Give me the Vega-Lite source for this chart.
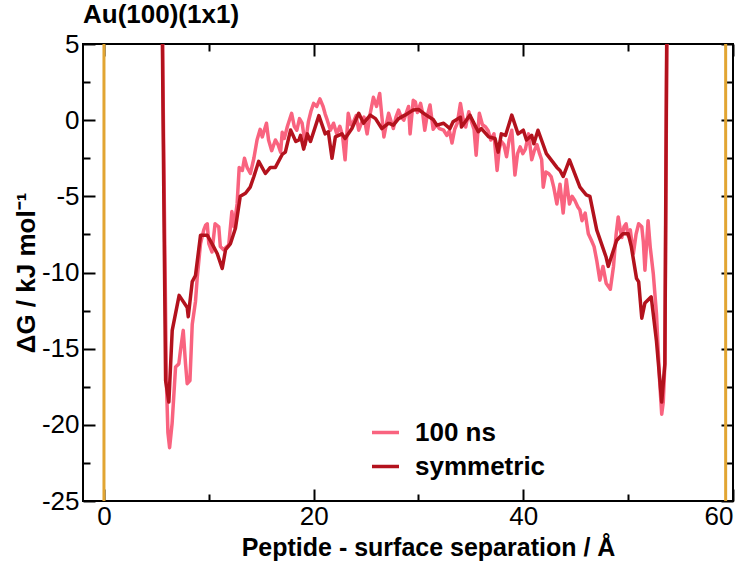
{
  "$schema": "https://vega.github.io/schema/vega-lite/v6.json",
  "autosize": "none",
  "width": 650,
  "height": 457,
  "padding": {"left": 83, "top": 44, "right": 17, "bottom": 66},
  "background": "white",
  "config": {
    "font": "Liberation Sans",
    "view": {"stroke": "black", "strokeWidth": 2},
    "axis": {
      "domain": false,
      "grid": false,
      "zindex": 1,
      "tickColor": "black",
      "tickWidth": 2,
      "labelFont": "Liberation Sans",
      "labelFontSize": 26,
      "labelColor": "black",
      "titleFont": "Liberation Sans",
      "titleFontSize": 26,
      "titleFontWeight": "bold",
      "titleColor": "black"
    }
  },
  "title": {
    "text": "Au(100)(1x1)",
    "anchor": "start",
    "frame": "group",
    "font": "Liberation Sans",
    "fontSize": 26,
    "fontWeight": "bold",
    "color": "black",
    "baseline": "alphabetic",
    "offset": -18
  },
  "datasets": {
    "walls": [{"x": 0}, {"x": 59.3}],
    "curves": [
      {"series": "100 ns", "x": 5.5, "y": 12}, {"series": "100 ns", "x": 5.62, "y": 3}, {"series": "100 ns", "x": 5.8, "y": -8}, {"series": "100 ns", "x": 5.95, "y": -17}, {"series": "100 ns", "x": 6.1, "y": -20.5}, {"series": "100 ns", "x": 6.26, "y": -21.5}, {"series": "100 ns", "x": 6.5, "y": -19.9}, {"series": "100 ns", "x": 6.83, "y": -16.2}, {"series": "100 ns", "x": 7.14, "y": -16.0}, {"series": "100 ns", "x": 7.3, "y": -15.1}, {"series": "100 ns", "x": 7.56, "y": -13.8}, {"series": "100 ns", "x": 7.78, "y": -16.0}, {"series": "100 ns", "x": 7.94, "y": -17.3}, {"series": "100 ns", "x": 8.2, "y": -17.1}, {"series": "100 ns", "x": 8.42, "y": -13.4}, {"series": "100 ns", "x": 8.73, "y": -11.9}, {"series": "100 ns", "x": 8.9, "y": -10.3}, {"series": "100 ns", "x": 9.21, "y": -8.1}, {"series": "100 ns", "x": 9.52, "y": -7.2}, {"series": "100 ns", "x": 9.69, "y": -6.9}, {"series": "100 ns", "x": 9.85, "y": -6.8}, {"series": "100 ns", "x": 10.0, "y": -8.1}, {"series": "100 ns", "x": 10.3, "y": -8.65}, {"series": "100 ns", "x": 10.6, "y": -6.8}, {"series": "100 ns", "x": 10.95, "y": -7.0}, {"series": "100 ns", "x": 11.1, "y": -8.3}, {"series": "100 ns", "x": 11.4, "y": -8.5}, {"series": "100 ns", "x": 11.9, "y": -8.2}, {"series": "100 ns", "x": 12.2, "y": -6.0}, {"series": "100 ns", "x": 12.4, "y": -7.0}, {"series": "100 ns", "x": 12.7, "y": -5.5}, {"series": "100 ns", "x": 12.9, "y": -3.1}, {"series": "100 ns", "x": 13.2, "y": -3.3}, {"series": "100 ns", "x": 13.4, "y": -2.5}, {"series": "100 ns", "x": 13.65, "y": -3.1}, {"series": "100 ns", "x": 13.97, "y": -3.5}, {"series": "100 ns", "x": 14.3, "y": -2.5}, {"series": "100 ns", "x": 14.6, "y": -1.3}, {"series": "100 ns", "x": 14.9, "y": -0.6}, {"series": "100 ns", "x": 15.1, "y": -1.1}, {"series": "100 ns", "x": 15.5, "y": -0.2}, {"series": "100 ns", "x": 15.7, "y": -1.3}, {"series": "100 ns", "x": 16.0, "y": -2.0}, {"series": "100 ns", "x": 16.35, "y": -1.3}, {"series": "100 ns", "x": 16.6, "y": -1.6}, {"series": "100 ns", "x": 16.85, "y": -2.1}, {"series": "100 ns", "x": 17.0, "y": -0.8}, {"series": "100 ns", "x": 17.2, "y": -1.2}, {"series": "100 ns", "x": 17.5, "y": -0.4}, {"series": "100 ns", "x": 17.9, "y": 0.45}, {"series": "100 ns", "x": 18.15, "y": -0.4}, {"series": "100 ns", "x": 18.4, "y": -0.66}, {"series": "100 ns", "x": 18.65, "y": 0.1}, {"series": "100 ns", "x": 18.9, "y": -0.2}, {"series": "100 ns", "x": 19.2, "y": -1.6}, {"series": "100 ns", "x": 19.5, "y": -0.1}, {"series": "100 ns", "x": 19.75, "y": 0.6}, {"series": "100 ns", "x": 20.0, "y": 1.1}, {"series": "100 ns", "x": 20.3, "y": 0.9}, {"series": "100 ns", "x": 20.6, "y": 1.4}, {"series": "100 ns", "x": 20.9, "y": 0.9}, {"series": "100 ns", "x": 21.1, "y": 0.4}, {"series": "100 ns", "x": 21.3, "y": 0.0}, {"series": "100 ns", "x": 21.6, "y": -0.66}, {"series": "100 ns", "x": 21.9, "y": -0.2}, {"series": "100 ns", "x": 22.2, "y": -0.9}, {"series": "100 ns", "x": 22.5, "y": -0.4}, {"series": "100 ns", "x": 22.75, "y": -1.0}, {"series": "100 ns", "x": 23.0, "y": -2.6}, {"series": "100 ns", "x": 23.3, "y": 0.45}, {"series": "100 ns", "x": 23.55, "y": -0.3}, {"series": "100 ns", "x": 23.8, "y": -0.1}, {"series": "100 ns", "x": 24.05, "y": 0.3}, {"series": "100 ns", "x": 24.3, "y": -0.66}, {"series": "100 ns", "x": 24.55, "y": -0.2}, {"series": "100 ns", "x": 24.8, "y": 0.2}, {"series": "100 ns", "x": 25.1, "y": -0.9}, {"series": "100 ns", "x": 25.4, "y": 0.45}, {"series": "100 ns", "x": 25.7, "y": 1.5}, {"series": "100 ns", "x": 26.0, "y": 0.9}, {"series": "100 ns", "x": 26.3, "y": 1.75}, {"series": "100 ns", "x": 26.5, "y": 0.3}, {"series": "100 ns", "x": 26.7, "y": -1.1}, {"series": "100 ns", "x": 26.95, "y": -0.2}, {"series": "100 ns", "x": 27.15, "y": 0.45}, {"series": "100 ns", "x": 27.4, "y": -0.1}, {"series": "100 ns", "x": 27.6, "y": -0.55}, {"series": "100 ns", "x": 27.85, "y": 0.2}, {"series": "100 ns", "x": 28.1, "y": 0.66}, {"series": "100 ns", "x": 28.35, "y": 0.2}, {"series": "100 ns", "x": 28.6, "y": 0.0}, {"series": "100 ns", "x": 28.85, "y": 0.5}, {"series": "100 ns", "x": 29.05, "y": 0.9}, {"series": "100 ns", "x": 29.2, "y": -0.9}, {"series": "100 ns", "x": 29.5, "y": 1.3}, {"series": "100 ns", "x": 29.7, "y": 1.2}, {"series": "100 ns", "x": 29.9, "y": 0.5}, {"series": "100 ns", "x": 30.2, "y": 1.1}, {"series": "100 ns", "x": 30.4, "y": 0.45}, {"series": "100 ns", "x": 30.6, "y": -0.66}, {"series": "100 ns", "x": 30.8, "y": 0.2}, {"series": "100 ns", "x": 31.1, "y": 1.0}, {"series": "100 ns", "x": 31.4, "y": -0.6}, {"series": "100 ns", "x": 31.7, "y": -0.3}, {"series": "100 ns", "x": 32.0, "y": -0.55}, {"series": "100 ns", "x": 32.4, "y": -0.66}, {"series": "100 ns", "x": 32.7, "y": -1.0}, {"series": "100 ns", "x": 32.95, "y": -0.7}, {"series": "100 ns", "x": 33.2, "y": -1.5}, {"series": "100 ns", "x": 33.45, "y": -0.6}, {"series": "100 ns", "x": 33.7, "y": -0.2}, {"series": "100 ns", "x": 34.0, "y": 1.1}, {"series": "100 ns", "x": 34.25, "y": 0.1}, {"series": "100 ns", "x": 34.5, "y": -0.45}, {"series": "100 ns", "x": 34.8, "y": 0.55}, {"series": "100 ns", "x": 35.1, "y": -0.2}, {"series": "100 ns", "x": 35.3, "y": -0.6}, {"series": "100 ns", "x": 35.5, "y": -2.3}, {"series": "100 ns", "x": 35.8, "y": 0.45}, {"series": "100 ns", "x": 36.1, "y": -0.3}, {"series": "100 ns", "x": 36.4, "y": -0.45}, {"series": "100 ns", "x": 36.65, "y": -0.7}, {"series": "100 ns", "x": 36.9, "y": -1.3}, {"series": "100 ns", "x": 37.2, "y": -0.9}, {"series": "100 ns", "x": 37.5, "y": -3.3}, {"series": "100 ns", "x": 37.7, "y": -1.9}, {"series": "100 ns", "x": 37.9, "y": -1.4}, {"series": "100 ns", "x": 38.15, "y": -1.6}, {"series": "100 ns", "x": 38.4, "y": -2.4}, {"series": "100 ns", "x": 38.65, "y": -1.3}, {"series": "100 ns", "x": 38.9, "y": -0.66}, {"series": "100 ns", "x": 39.2, "y": -3.6}, {"series": "100 ns", "x": 39.45, "y": -2.2}, {"series": "100 ns", "x": 39.7, "y": -1.75}, {"series": "100 ns", "x": 39.95, "y": -2.2}, {"series": "100 ns", "x": 40.2, "y": -1.9}, {"series": "100 ns", "x": 40.5, "y": -0.9}, {"series": "100 ns", "x": 40.8, "y": -2.6}, {"series": "100 ns", "x": 41.05, "y": -2.0}, {"series": "100 ns", "x": 41.3, "y": -1.6}, {"series": "100 ns", "x": 41.55, "y": -2.2}, {"series": "100 ns", "x": 41.75, "y": -2.6}, {"series": "100 ns", "x": 41.9, "y": -4.4}, {"series": "100 ns", "x": 42.15, "y": -3.4}, {"series": "100 ns", "x": 42.4, "y": -3.5}, {"series": "100 ns", "x": 42.65, "y": -3.7}, {"series": "100 ns", "x": 42.9, "y": -4.4}, {"series": "100 ns", "x": 43.2, "y": -5.5}, {"series": "100 ns", "x": 43.5, "y": -4.2}, {"series": "100 ns", "x": 43.8, "y": -6.1}, {"series": "100 ns", "x": 44.1, "y": -3.9}, {"series": "100 ns", "x": 44.4, "y": -5.5}, {"series": "100 ns", "x": 44.65, "y": -5.0}, {"series": "100 ns", "x": 44.9, "y": -5.25}, {"series": "100 ns", "x": 45.2, "y": -5.7}, {"series": "100 ns", "x": 45.4, "y": -5.9}, {"series": "100 ns", "x": 45.6, "y": -6.6}, {"series": "100 ns", "x": 45.9, "y": -6.1}, {"series": "100 ns", "x": 46.2, "y": -7.45}, {"series": "100 ns", "x": 46.5, "y": -7.9}, {"series": "100 ns", "x": 46.75, "y": -8.3}, {"series": "100 ns", "x": 47.0, "y": -9.2}, {"series": "100 ns", "x": 47.3, "y": -10.5}, {"series": "100 ns", "x": 47.6, "y": -9.6}, {"series": "100 ns", "x": 47.9, "y": -10.7}, {"series": "100 ns", "x": 48.3, "y": -11.1}, {"series": "100 ns", "x": 48.6, "y": -9.6}, {"series": "100 ns", "x": 48.85, "y": -7.5}, {"series": "100 ns", "x": 49.05, "y": -6.35}, {"series": "100 ns", "x": 49.25, "y": -7.2}, {"series": "100 ns", "x": 49.4, "y": -7.7}, {"series": "100 ns", "x": 49.6, "y": -7.0}, {"series": "100 ns", "x": 49.8, "y": -6.8}, {"series": "100 ns", "x": 50.0, "y": -7.6}, {"series": "100 ns", "x": 50.2, "y": -7.2}, {"series": "100 ns", "x": 50.5, "y": -8.75}, {"series": "100 ns", "x": 50.75, "y": -7.5}, {"series": "100 ns", "x": 51.0, "y": -6.8}, {"series": "100 ns", "x": 51.3, "y": -7.0}, {"series": "100 ns", "x": 51.45, "y": -8.0}, {"series": "100 ns", "x": 51.6, "y": -9.85}, {"series": "100 ns", "x": 51.9, "y": -6.6}, {"series": "100 ns", "x": 52.1, "y": -8.3}, {"series": "100 ns", "x": 52.4, "y": -10.1}, {"series": "100 ns", "x": 52.7, "y": -12.7}, {"series": "100 ns", "x": 53.0, "y": -17.1}, {"series": "100 ns", "x": 53.2, "y": -19.3}, {"series": "100 ns", "x": 53.35, "y": -18.5}, {"series": "100 ns", "x": 53.5, "y": -16.0}, {"series": "100 ns", "x": 53.6, "y": -5}, {"series": "100 ns", "x": 53.75, "y": 12},
      {"series": "symmetric", "x": 5.5, "y": 12}, {"series": "symmetric", "x": 5.6, "y": 3}, {"series": "symmetric", "x": 5.75, "y": -8}, {"series": "symmetric", "x": 5.88, "y": -17.1}, {"series": "symmetric", "x": 6.19, "y": -18.5}, {"series": "symmetric", "x": 6.51, "y": -13.8}, {"series": "symmetric", "x": 7.17, "y": -11.5}, {"series": "symmetric", "x": 7.94, "y": -12.3}, {"series": "symmetric", "x": 8.04, "y": -12.9}, {"series": "symmetric", "x": 8.42, "y": -10.6}, {"series": "symmetric", "x": 8.73, "y": -10.2}, {"series": "symmetric", "x": 9.21, "y": -7.55}, {"series": "symmetric", "x": 9.85, "y": -7.55}, {"series": "symmetric", "x": 10.3, "y": -8.1}, {"series": "symmetric", "x": 10.8, "y": -8.75}, {"series": "symmetric", "x": 11.28, "y": -9.74}, {"series": "symmetric", "x": 11.6, "y": -8.5}, {"series": "symmetric", "x": 12.07, "y": -8.1}, {"series": "symmetric", "x": 12.54, "y": -7.1}, {"series": "symmetric", "x": 13.0, "y": -5.0}, {"series": "symmetric", "x": 13.5, "y": -4.8}, {"series": "symmetric", "x": 13.95, "y": -4.4}, {"series": "symmetric", "x": 14.3, "y": -3.7}, {"series": "symmetric", "x": 14.76, "y": -2.7}, {"series": "symmetric", "x": 15.4, "y": -3.5}, {"series": "symmetric", "x": 15.87, "y": -3.1}, {"series": "symmetric", "x": 16.35, "y": -3.1}, {"series": "symmetric", "x": 17.0, "y": -2.25}, {"series": "symmetric", "x": 17.3, "y": -2.1}, {"series": "symmetric", "x": 17.8, "y": -0.65}, {"series": "symmetric", "x": 18.3, "y": -1.4}, {"series": "symmetric", "x": 18.6, "y": -1.3}, {"series": "symmetric", "x": 18.75, "y": -1.0}, {"series": "symmetric", "x": 19.05, "y": -1.9}, {"series": "symmetric", "x": 19.4, "y": -0.9}, {"series": "symmetric", "x": 19.7, "y": -1.4}, {"series": "symmetric", "x": 20.5, "y": 0.3}, {"series": "symmetric", "x": 21.1, "y": -0.9}, {"series": "symmetric", "x": 21.4, "y": -0.76}, {"series": "symmetric", "x": 21.75, "y": -2.5}, {"series": "symmetric", "x": 22.07, "y": -1.1}, {"series": "symmetric", "x": 22.7, "y": -0.9}, {"series": "symmetric", "x": 23.0, "y": -1.2}, {"series": "symmetric", "x": 23.65, "y": -0.55}, {"series": "symmetric", "x": 24.3, "y": 0.45}, {"series": "symmetric", "x": 24.76, "y": -0.2}, {"series": "symmetric", "x": 25.4, "y": 0.33}, {"series": "symmetric", "x": 25.9, "y": 0.1}, {"series": "symmetric", "x": 26.5, "y": -0.55}, {"series": "symmetric", "x": 27.15, "y": -0.2}, {"series": "symmetric", "x": 27.6, "y": -0.33}, {"series": "symmetric", "x": 28.1, "y": 0.1}, {"series": "symmetric", "x": 28.7, "y": 0.33}, {"series": "symmetric", "x": 29.5, "y": 0.66}, {"series": "symmetric", "x": 30.0, "y": 0.7}, {"series": "symmetric", "x": 30.8, "y": 0.3}, {"series": "symmetric", "x": 31.4, "y": 0.05}, {"series": "symmetric", "x": 31.75, "y": -0.33}, {"series": "symmetric", "x": 32.4, "y": -0.2}, {"series": "symmetric", "x": 33.0, "y": -0.55}, {"series": "symmetric", "x": 33.3, "y": -0.1}, {"series": "symmetric", "x": 34.0, "y": 0.2}, {"series": "symmetric", "x": 34.1, "y": -0.45}, {"series": "symmetric", "x": 34.9, "y": 0.33}, {"series": "symmetric", "x": 35.7, "y": -0.76}, {"series": "symmetric", "x": 36.0, "y": -0.55}, {"series": "symmetric", "x": 36.7, "y": -1.1}, {"series": "symmetric", "x": 37.3, "y": -1.2}, {"series": "symmetric", "x": 37.6, "y": -2.1}, {"series": "symmetric", "x": 37.9, "y": -0.9}, {"series": "symmetric", "x": 38.3, "y": -1.0}, {"series": "symmetric", "x": 38.9, "y": 0.33}, {"series": "symmetric", "x": 39.5, "y": -0.9}, {"series": "symmetric", "x": 40.0, "y": -0.66}, {"series": "symmetric", "x": 40.3, "y": -1.3}, {"series": "symmetric", "x": 40.8, "y": -1.0}, {"series": "symmetric", "x": 41.0, "y": -1.55}, {"series": "symmetric", "x": 41.4, "y": -0.66}, {"series": "symmetric", "x": 42.2, "y": -2.2}, {"series": "symmetric", "x": 43.2, "y": -3.1}, {"series": "symmetric", "x": 43.5, "y": -3.3}, {"series": "symmetric", "x": 43.8, "y": -3.7}, {"series": "symmetric", "x": 44.4, "y": -2.6}, {"series": "symmetric", "x": 45.4, "y": -4.4}, {"series": "symmetric", "x": 46.0, "y": -4.9}, {"series": "symmetric", "x": 46.35, "y": -5.0}, {"series": "symmetric", "x": 47.0, "y": -7.2}, {"series": "symmetric", "x": 47.9, "y": -9.0}, {"series": "symmetric", "x": 48.1, "y": -9.6}, {"series": "symmetric", "x": 48.9, "y": -7.9}, {"series": "symmetric", "x": 49.5, "y": -7.45}, {"series": "symmetric", "x": 50.0, "y": -7.45}, {"series": "symmetric", "x": 50.3, "y": -8.3}, {"series": "symmetric", "x": 50.8, "y": -10.4}, {"series": "symmetric", "x": 51.0, "y": -10.6}, {"series": "symmetric", "x": 51.3, "y": -13.0}, {"series": "symmetric", "x": 51.6, "y": -12.0}, {"series": "symmetric", "x": 52.2, "y": -11.6}, {"series": "symmetric", "x": 52.7, "y": -14.5}, {"series": "symmetric", "x": 53.2, "y": -18.5}, {"series": "symmetric", "x": 53.5, "y": -16.0}, {"series": "symmetric", "x": 53.65, "y": 2.6}, {"series": "symmetric", "x": 53.75, "y": 12}
    ]
  },
  "resolve": {"axis": {"x": "independent", "y": "independent"}},
  "layer": [
    {
      "data": {"name": "walls"},
      "mark": {"type": "rule", "color": "#e2a532", "strokeWidth": 3},
      "encoding": {
        "x": {
          "field": "x", "type": "quantitative",
          "scale": {"domain": [-2, 60], "nice": false, "zero": false},
          "axis": {
            "orient": "bottom",
            "values": [0, 20, 40, 60],
            "labelExpr": "'' + datum.value",
            "tickSize": -12,
            "labelPadding": 14,
            "title": "Peptide - surface separation / Å",
            "titleFontSize": 25,
            "titlePadding": 6,
            "titleX": 345
          }
        }
      }
    },
    {
      "data": {"name": "curves"},
      "mark": {"type": "line", "clip": true, "strokeWidth": 3.5, "strokeJoin": "round"},
      "encoding": {
        "x": {
          "field": "x", "type": "quantitative",
          "scale": {"domain": [-2, 60], "nice": false, "zero": false},
          "axis": {"orient": "top", "values": [0, 20, 40, 60], "labels": false, "tickSize": -12, "title": null}
        },
        "y": {
          "field": "y", "type": "quantitative",
          "scale": {"domain": [-25, 5], "nice": false, "zero": false},
          "axis": {
            "orient": "left",
            "values": [-25, -20, -15, -10, -5, 0, 5],
            "labelExpr": "'' + datum.value",
            "tickSize": -12,
            "labelPadding": 16,
            "title": "ΔG / kJ mol⁻¹",
            "titlePadding": 2
          }
        },
        "color": {
          "field": "series", "type": "nominal",
          "scale": {"domain": ["100 ns", "symmetric"], "range": ["#f9637f", "#b3121d"]},
          "legend": {
            "orient": "none",
            "legendX": 287,
            "legendY": 373,
            "title": null,
            "padding": 0,
            "symbolType": "stroke",
            "symbolSize": 729,
            "symbolStrokeWidth": 3.5,
            "labelFont": "Liberation Sans",
            "labelFontSize": 26,
            "labelFontWeight": "bold",
            "labelColor": "black",
            "labelOffset": 14,
            "rowPadding": 5
          }
        }
      }
    },
    {
      "data": {"name": "curves"},
      "mark": {"type": "point", "opacity": 0, "clip": true},
      "encoding": {
        "x": {
          "field": "x", "type": "quantitative",
          "scale": {"domain": [-2, 60], "nice": false, "zero": false},
          "axis": {"orient": "bottom", "values": [10, 30, 50], "labels": false, "tickSize": -7, "title": null}
        },
        "y": {
          "field": "y", "type": "quantitative",
          "scale": {"domain": [-25, 5], "nice": false, "zero": false},
          "axis": {"orient": "right", "values": [-25, -20, -15, -10, -5, 0, 5], "labels": false, "tickSize": -12, "title": null}
        }
      }
    },
    {
      "data": {"name": "curves"},
      "mark": {"type": "point", "opacity": 0, "clip": true},
      "encoding": {
        "x": {
          "field": "x", "type": "quantitative",
          "scale": {"domain": [-2, 60], "nice": false, "zero": false},
          "axis": {"orient": "top", "values": [10, 30, 50], "labels": false, "tickSize": -7, "title": null}
        },
        "y": {
          "field": "y", "type": "quantitative",
          "scale": {"domain": [-25, 5], "nice": false, "zero": false},
          "axis": {"orient": "left", "values": [-22.5, -17.5, -12.5, -7.5, -2.5, 2.5], "labels": false, "tickSize": -7, "title": null}
        }
      }
    },
    {
      "data": {"name": "curves"},
      "mark": {"type": "point", "opacity": 0, "clip": true},
      "encoding": {
        "x": {"field": "x", "type": "quantitative", "scale": {"domain": [-2, 60], "nice": false, "zero": false}, "axis": null},
        "y": {
          "field": "y", "type": "quantitative",
          "scale": {"domain": [-25, 5], "nice": false, "zero": false},
          "axis": {"orient": "right", "values": [-22.5, -17.5, -12.5, -7.5, -2.5, 2.5], "labels": false, "tickSize": -7, "title": null}
        }
      }
    }
  ]
}
